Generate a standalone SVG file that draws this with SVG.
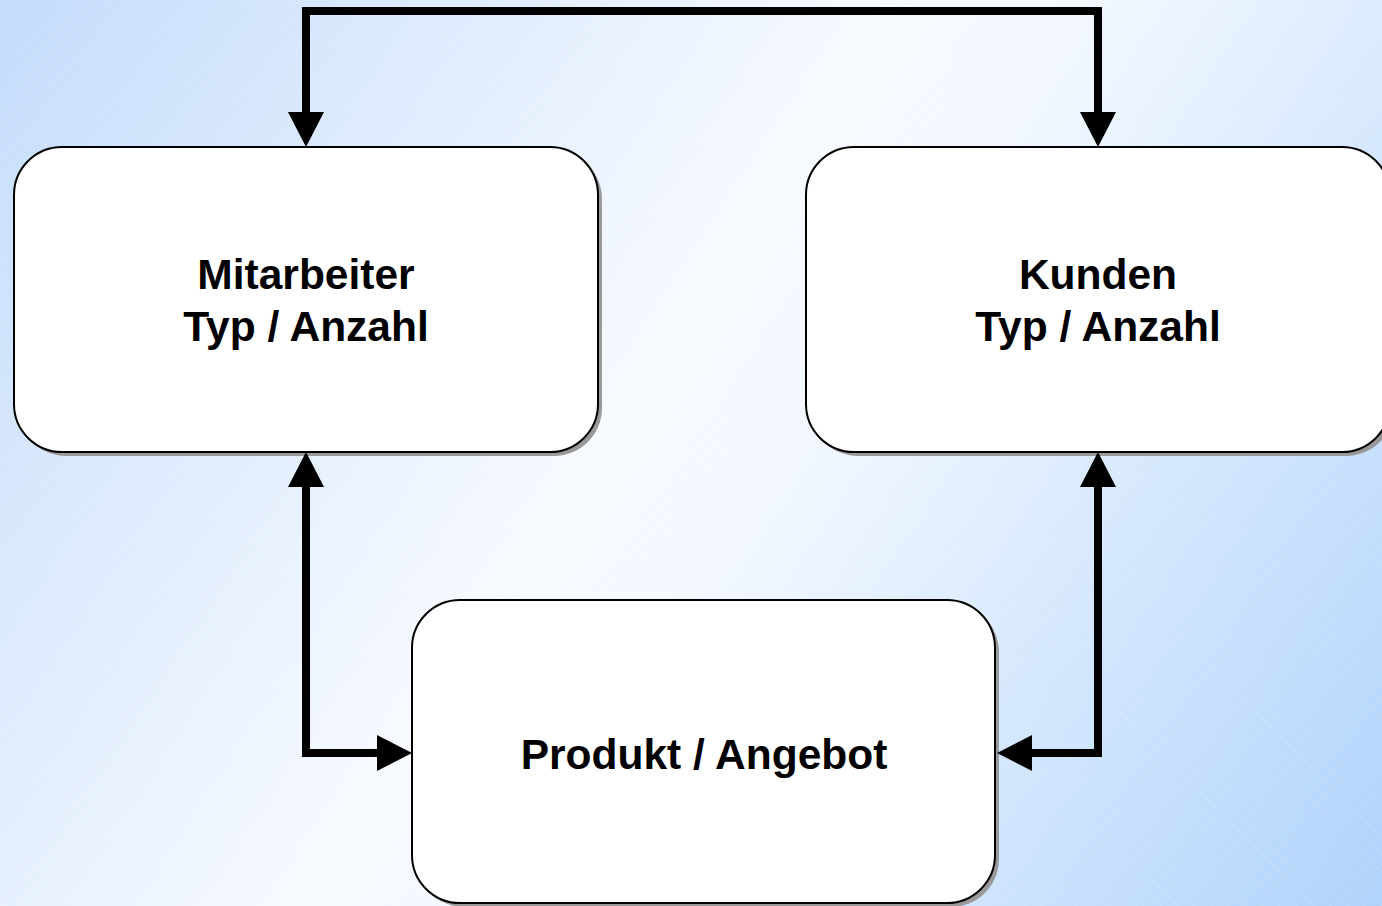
<svg xmlns="http://www.w3.org/2000/svg" width="1382" height="906" viewBox="0 0 1382 906">
  <defs>
    <linearGradient id="bg" x1="0" y1="0" x2="1382" y2="906" gradientUnits="userSpaceOnUse">
      <stop offset="0" stop-color="#c4dcfb"/>
      <stop offset="0.45" stop-color="#f7faff"/>
      <stop offset="0.55" stop-color="#f3f8ff"/>
      <stop offset="1" stop-color="#b0d3fb"/>
    </linearGradient>
    <pattern id="hatch" width="12" height="12" patternUnits="userSpaceOnUse" patternTransform="rotate(-45)">
      <line x1="0" y1="0" x2="0" y2="12" stroke="#ffffff" stroke-opacity="0.25" stroke-width="1"/>
    </pattern>
    <marker id="arr" markerUnits="userSpaceOnUse" markerWidth="35" markerHeight="36" refX="0" refY="18" orient="auto-start-reverse" viewBox="0 0 35 36">
      <path d="M0,0 L35,18 L0,36 z" fill="#000"/>
    </marker>
  </defs>
  <style>
    .shadow { fill: #999999; stroke: none; }
    .box { fill: #ffffff; stroke: #000000; stroke-width: 2; }
    .lbl { font-family: "Liberation Sans", Arial, sans-serif; font-weight: bold; font-size: 42.5px; fill: #000; text-anchor: middle; }
    .conn { fill: none; stroke: #000; stroke-width: 8; stroke-linejoin: miter; marker-start: url(#arr); marker-end: url(#arr); }
  </style>
  <rect width="1382" height="906" fill="url(#bg)"/>
  <rect width="1382" height="906" fill="url(#hatch)"/>

  <g id="node-mitarbeiter">
    <rect class="shadow" x="18" y="151" width="584" height="305" rx="48"/>
    <rect class="box" x="14" y="147" width="584" height="305" rx="48"/>
    <text class="lbl" x="306" y="289">Mitarbeiter</text>
    <text class="lbl" x="306" y="341">Typ / Anzahl</text>
  </g>

  <g id="node-kunden">
    <rect class="shadow" x="810" y="151" width="584" height="305" rx="48"/>
    <rect class="box" x="806" y="147" width="584" height="305" rx="48"/>
    <text class="lbl" x="1098" y="289">Kunden</text>
    <text class="lbl" x="1098" y="341">Typ / Anzahl</text>
  </g>

  <g id="node-produkt">
    <rect class="shadow" x="416" y="604" width="583" height="303" rx="48"/>
    <rect class="box" x="412" y="600" width="583" height="303" rx="48"/>
    <text class="lbl" x="704" y="769">Produkt / Angebot</text>
  </g>

  <g id="connectors">
    <path class="conn" d="M306,112 V11 H1098 V112"/>
    <path class="conn" d="M306,487 V753 H377"/>
    <path class="conn" d="M1098,487 V753 H1032"/>
  </g>
</svg>
